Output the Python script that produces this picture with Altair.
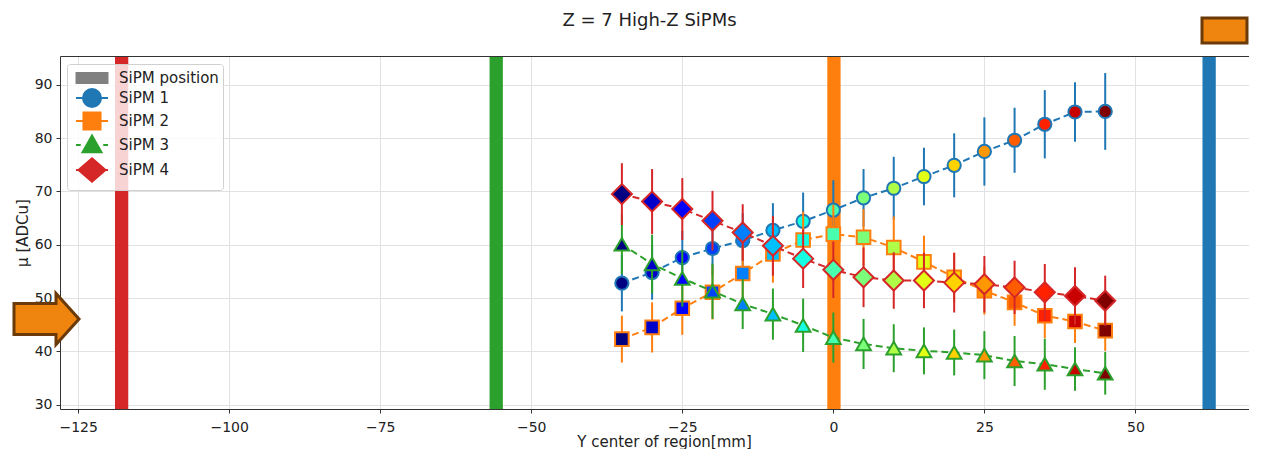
import altair as alt
import numpy as np
import pandas as pd

# ---------------- data ----------------
x_mm = [-35, -30, -25, -20, -15, -10, -5, 0, 5, 10, 15, 20, 25, 30, 35, 40, 45]

sipm1_mu = [52.8, 54.8, 57.6, 59.3, 60.8, 62.7, 64.4, 66.5, 68.8, 70.6, 72.8, 74.9, 77.5, 79.6, 82.6, 84.9, 85.0]
sipm1_err = [5.3, 5.1, 5.0, 5.0, 5.1, 5.1, 5.4, 5.6, 5.4, 5.9, 5.4, 6.0, 6.4, 6.1, 6.4, 5.6, 7.2]

sipm2_mu = [42.3, 44.5, 48.1, 51.1, 54.6, 58.3, 60.9, 62.0, 61.4, 59.5, 56.8, 53.9, 51.4, 49.2, 46.7, 45.6, 43.9]
sipm2_err = [4.4, 4.7, 5.0, 5.1, 5.2, 5.4, 5.3, 5.5, 5.3, 5.8, 4.9, 4.6, 4.5, 4.4, 4.2, 4.0, 3.8]

sipm3_mu = [60.1, 56.4, 53.7, 51.3, 48.9, 47.0, 44.9, 42.6, 41.4, 40.6, 40.1, 39.8, 39.3, 38.2, 37.6, 36.7, 35.9]
sipm3_err = [5.6, 5.5, 5.3, 5.2, 4.7, 4.8, 5.0, 4.7, 4.7, 4.5, 4.4, 4.3, 4.5, 4.7, 4.8, 4.1, 4.0]

sipm4_mu = [69.5, 68.1, 66.7, 64.5, 62.3, 59.8, 57.4, 55.3, 53.9, 53.3, 53.3, 52.9, 52.6, 52.0, 51.1, 50.4, 49.5]
sipm4_err = [5.8, 6.1, 5.8, 5.6, 5.3, 5.6, 5.5, 5.3, 5.6, 5.3, 5.2, 5.6, 5.3, 5.0, 5.3, 5.4, 4.7]

series_names = ["SiPM 1", "SiPM 2", "SiPM 3", "SiPM 4"]
series_mu = [sipm1_mu, sipm2_mu, sipm3_mu, sipm4_mu]
series_err = [sipm1_err, sipm2_err, sipm3_err, sipm4_err]

# SiPM positions (vertical bands, mm)
pos_lo = [-118.9, -56.9, -1.0, 61.1]
pos_hi = [-116.7, -54.7, 1.2, 63.3]

legend_names = ["SiPM position", "SiPM 1", "SiPM 2", "SiPM 3", "SiPM 4"]

# ---------------- styles ----------------
series_colors = ["#1f77b4", "#ff7f0e", "#2ca02c", "#d62728"]
series_shapes = ["circle", "square", "triangle-up", "diamond"]
series_sizes = [175, 185, 215, 400]
pos_colors = ["#d62728", "#2ca02c", "#ff7f0e", "#1f77b4"]
legend_colors = ["#808080"] + series_colors
legend_paths = [
    "M-1.72,-0.56H1.72V0.56H-1.72Z",
    "M-1.78,0H-1M1,0H1.78M-1,0A1,1 0 1,0 1,0A1,1 0 1,0 -1,0Z",
    "M-1.78,0H-0.95M0.95,0H1.78M-0.95,-0.95H0.95V0.95H-0.95Z",
    "M-1.78,0H-1.25M1.25,0H1.78M0,-1.05L1.05,0.8H-1.05Z",
    "M-1.78,0H-1.4M1.4,0H1.78M0,-1.3L1.5,0L0,1.3L-1.5,0Z",
]


def jet(t):
    r = np.interp(t, [0, 0.35, 0.66, 0.89, 1], [0, 0, 1, 1, 0.5])
    g = np.interp(t, [0, 0.125, 0.375, 0.64, 0.91, 1], [0, 0, 1, 1, 0, 0])
    b = np.interp(t, [0, 0.11, 0.34, 0.65, 1], [0.5, 1, 1, 0, 0])
    return "#%02x%02x%02x" % tuple(int(round(v * 255)) for v in (r, g, b))


n = len(x_mm)
point_fills = [jet(i / (n - 1)) for i in range(n)]

W, H = 1189, 353
XDOM = [-128.0, 68.8]
YDOM = [29.2, 95.4]
FONT = "DejaVu Sans"
TXT = "#222222"

x_scale = alt.Scale(domain=XDOM, nice=False, zero=False)
y_scale = alt.Scale(domain=YDOM, nice=False, zero=False)

bottom_axis = alt.Axis(
    values=[-125, -100, -75, -50, -25, 0, 25, 50],
    title="Y center of region[mm]",
    grid=True, gridColor="#e2e2e2", gridWidth=1,
    domainColor="#333333", domainWidth=1,
    tickColor="#333333", tickSize=4, tickWidth=1,
    labelFont=FONT, labelFontSize=14, labelColor=TXT, labelPadding=7,
    titleFont=FONT, titleFontSize=15, titleColor=TXT, titleFontWeight="normal",
    titlePadding=0, titleX=604,
)
top_axis = alt.Axis(orient="top", labels=False, ticks=False, grid=False, title=None,
                    domain=True, domainColor="#333333", domainWidth=1, zindex=1)
y_axis = alt.Axis(
    values=[30, 40, 50, 60, 70, 80, 90],
    title="μ [ADCu]",
    grid=True, gridColor="#e2e2e2", gridWidth=1,
    domainColor="#333333", domainWidth=1,
    tickColor="#333333", tickSize=4, tickWidth=1,
    labelFont=FONT, labelFontSize=14, labelColor=TXT, labelPadding=4,
    titleFont=FONT, titleFontSize=15, titleColor=TXT, titleFontWeight="normal",
    titlePadding=4,
)

# ---------------- layers ----------------
bars_df = pd.DataFrame({"lo": pos_lo, "hi": pos_hi, "color": pos_colors})
bars = alt.Chart(bars_df).mark_rect(opacity=1).encode(
    x=alt.X("lo:Q", scale=x_scale, axis=top_axis),
    x2="hi:Q",
    fill=alt.Fill("color:N", scale=None),
)

layers = [bars]
for k, name in enumerate(series_names):
    mu = series_mu[k]
    err = series_err[k]
    df = pd.DataFrame({
        "x": x_mm,
        "mu": mu,
        "lo": [m - e for m, e in zip(mu, err)],
        "hi": [m + e for m, e in zip(mu, err)],
        "fill": point_fills,
    })
    xa = bottom_axis if k == 0 else None
    line = alt.Chart(df).mark_line(
        color=series_colors[k], strokeWidth=2, strokeDash=[7, 4]
    ).encode(
        x=alt.X("x:Q", scale=x_scale, axis=xa),
        y=alt.Y("mu:Q", scale=y_scale, axis=y_axis),
    )
    errs = alt.Chart(df).mark_rule(color=series_colors[k], strokeWidth=2).encode(
        x=alt.X("x:Q", scale=x_scale, axis=None),
        y=alt.Y("lo:Q", scale=y_scale, axis=y_axis),
        y2="hi:Q",
    )
    pts = alt.Chart(df).mark_point(
        filled=True, shape=series_shapes[k], size=series_sizes[k],
        stroke=series_colors[k], strokeWidth=2, opacity=1,
    ).encode(
        x=alt.X("x:Q", scale=x_scale, axis=None),
        y=alt.Y("mu:Q", scale=y_scale, axis=y_axis),
        fill=alt.Fill("fill:N", scale=None),
    )
    layers += [line, errs, pts]

leg_df = pd.DataFrame({"name": legend_names})
leg = alt.Legend(title=None)
legend_layer = alt.Chart(leg_df).mark_point(filled=True, size=0).encode(
    fill=alt.Fill("name:N", scale=alt.Scale(domain=legend_names, range=legend_colors), legend=leg),
    stroke=alt.Stroke("name:N", scale=alt.Scale(domain=legend_names, range=legend_colors), legend=leg),
    shape=alt.Shape("name:N", scale=alt.Scale(domain=legend_names, range=legend_paths), legend=leg),
)
layers.append(legend_layer)

# overlay annotations present in the reference screenshot
arrow_path = "M-1.2,-0.62H0.48V-1.02L1.4,0L0.48,1.02V0.62H-1.2Z"
arrow = alt.Chart(pd.DataFrame({"a": [0]})).mark_point(
    shape=arrow_path, size=2500, filled=True, fill="#ef840f",
    stroke="#6b3a08", strokeWidth=3, opacity=1,
).encode(x=alt.value(-16), y=alt.value(263))
box = alt.Chart(pd.DataFrame({"a": [0]})).mark_rect(
    fill="#ef840f", stroke="#6b3a08", strokeWidth=3, opacity=1,
).encode(x=alt.value(1142), x2=alt.value(W - 2), y=alt.value(-38), y2=alt.value(-13))
layers += [arrow, box]

chart = alt.layer(*layers).resolve_axis(x="independent").properties(
    width=W, height=H,
    background="white",
    padding={"left": 0, "top": 3, "right": 0, "bottom": 0},
    title=alt.TitleParams(
        "Z = 7 High-Z SiPMs", font=FONT, fontSize=18, fontWeight="normal",
        color=TXT, anchor="middle", frame="group", dx=-5, offset=-31, baseline="bottom",
    ),
).configure_view(stroke=None).configure_legend(
    orient="none", legendX=7, legendY=8,
    padding=4, fillColor="rgba(255,255,255,0.8)", strokeColor="#d0d0d0",
    cornerRadius=3, labelFont=FONT, labelFontSize=15, labelColor=TXT,
    symbolSize=324, symbolStrokeWidth=2, rowPadding=-3,
    symbolOffset=11, labelOffset=17,
)

chart.save("out.html", embed_options={"renderer": "svg", "actions": False})
